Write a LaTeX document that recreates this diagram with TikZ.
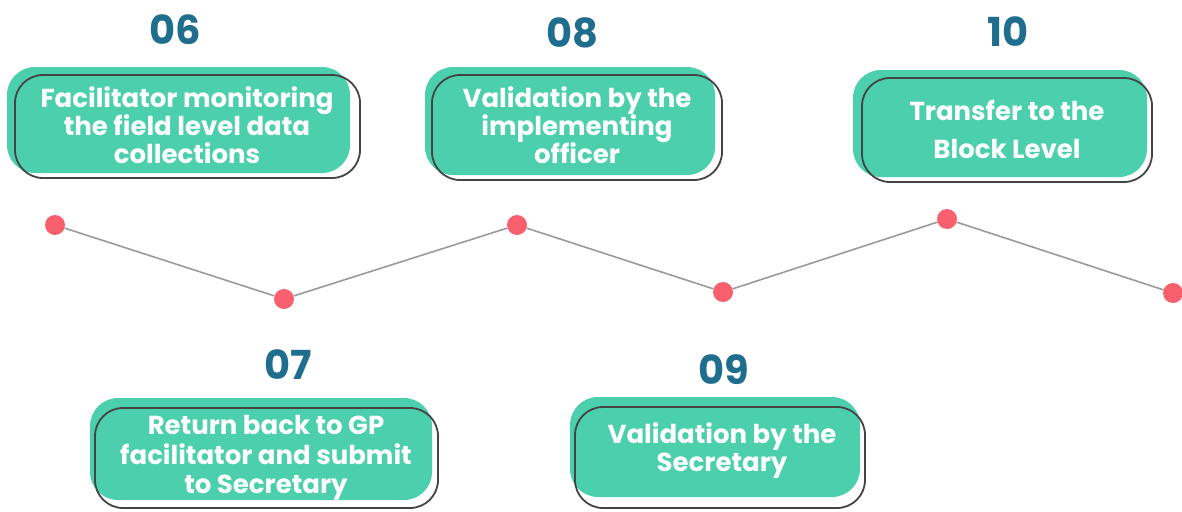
\documentclass[tikz,border=0pt]{standalone}
\usepackage{fontspec}
\setmainfont{Poppins}[UprightFont=* SemiBold, BoldFont=* Bold]
\definecolor{teal}{HTML}{4BCFAD}
\definecolor{numblue}{HTML}{1F6E8E}
\definecolor{dotred}{HTML}{F7606C}
\definecolor{edge}{HTML}{444444}
\definecolor{linegray}{HTML}{9A9A9A}
\tikzset{
  fillbox/.style={fill=teal, rounded corners=28pt},
  outbox/.style={draw=edge, line width=1.8pt, rounded corners=28pt},
  label/.style={text=white, align=center, font=\fontsize{26}{28}\selectfont\bfseries},
  num/.style={text=numblue, font=\fontsize{40}{40}\selectfont\bfseries},
  dot/.style={circle, fill=dotred, minimum size=20pt, inner sep=0pt},
  link/.style={draw=linegray, line width=1.6pt}
}
\begin{document}
\begin{tikzpicture}[x=1pt,y=-1pt]
\useasboundingbox (0,0) rectangle (1182,511);
% boxes: fill then outline
\fill[fillbox] (7,67) rectangle (350,173);
\draw[outbox] (15,75) rectangle (360,178);
\fill[fillbox] (425,67) rectangle (715,175);
\draw[outbox] (432,75) rectangle (722,180);
\fill[fillbox] (853,70) rectangle (1147,177);
\draw[outbox] (862,78) rectangle (1152,182);
\fill[fillbox] (90,398) rectangle (432,500);
\draw[outbox] (95,408) rectangle (438,508);
\fill[fillbox] (570,397) rectangle (860,497);
\draw[outbox] (575,407) rectangle (865,508);
% texts
\node[label] (t06) at (187,125) {Facilitator monitoring\\the field level data\\collections};
\node[label] (t08) at (577,125) {Validation by the\\implementing\\officer};
\node[label, font=\fontsize{26}{38}\selectfont\bfseries] (t10) at (1007,129) {Transfer to the\\Block Level};
\node[label, font=\fontsize{26}{29.5}\selectfont\bfseries] (t07) at (266,458) {Return back to GP\\facilitator and submit\\to Secretary};
\node[label] (t09) at (722,451) {Validation by the\\Secretary};
% numbers
\node[num] (n06) at (175,30) {06};
\node[num] (n08) at (572,33) {08};
\node[num] (n10) at (1008,32) {10};
\node[num] (n07) at (288,365) {07};
\node[num] (n09) at (724,370) {09};
% timeline
\node[dot] (d1) at (55,225) {};
\node[dot] (d2) at (284,299) {};
\node[dot] (d3) at (517,225) {};
\node[dot] (d4) at (723,292) {};
\node[dot] (d5) at (947,219) {};
\node[dot] (d6) at (1173,293) {};
\draw[link] (d1) -- (d2) -- (d3) -- (d4) -- (d5) -- (d6);
\end{tikzpicture}
\end{document}
